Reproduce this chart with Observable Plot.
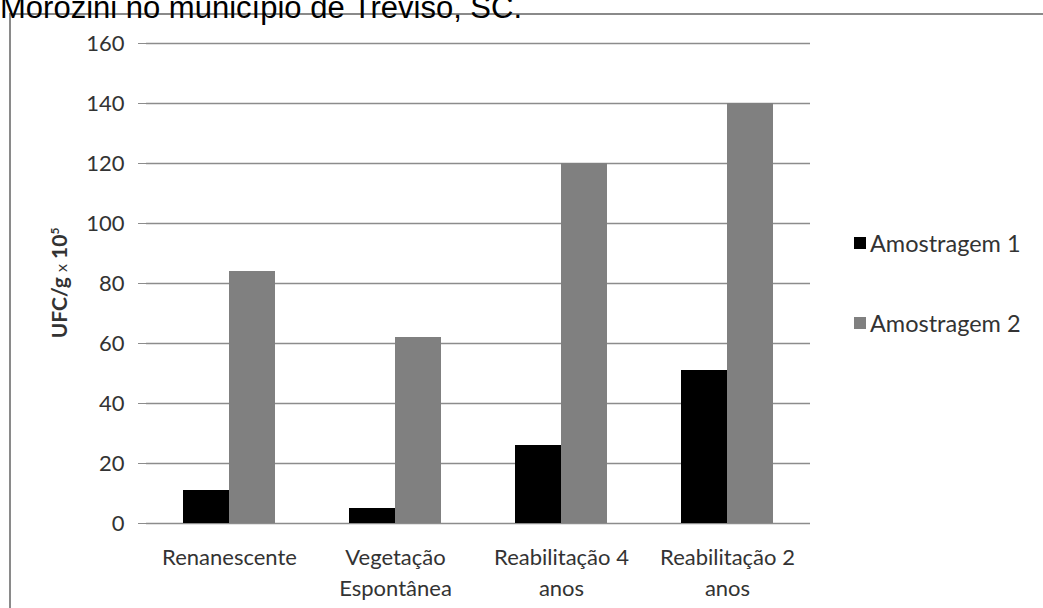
<!DOCTYPE html>
<html>
<head>
<meta charset="utf-8">
<script src="https://cdn.jsdelivr.net/npm/d3@7"></script>
<script src="https://cdn.jsdelivr.net/npm/@observablehq/plot@0.6"></script>
<style>
  html, body { margin: 0; padding: 0; background: #fff; overflow: hidden; }
  body { width: 1043px; height: 608px; position: relative; font-family: Lato, "Open Sans", sans-serif; }
  #title { position: absolute; left: 0; top: -7px; font-family: "Liberation Sans", Arial, sans-serif; font-size: 31px; color: #000; white-space: nowrap; line-height: 30px; }
  #frame { position: absolute; left: 9px; top: 13px; width: 1100px; height: 700px; border: 2px solid #8a8a8a; box-sizing: border-box; }
  #chart { position: absolute; left: 0; top: 0; }
  #ytitle { position: absolute; left: 58px; top: 283px; transform: translate(-50%, -50%) rotate(-90deg); white-space: nowrap; font-family: Lato, sans-serif; font-weight: bold; font-size: 21px; color: #333; }
  #ytitle .x { font-weight: normal; font-size: 16px; }
  #ytitle sup { font-size: 12px; }
  .leg { position: absolute; left: 854px; font-family: Lato, sans-serif; font-size: 23.5px; color: #333; white-space: nowrap; display: flex; align-items: center; }
  .leg span.sw { display: inline-block; width: 12px; height: 12px; margin-right: 4px; }
</style>
</head>
<body>
<div id="frame"></div>
<div id="title">Morozini no município de Treviso, SC.</div>
<div id="chart"></div>
<div id="ytitle">UFC/g <span class="x">x</span> 10<sup>5</sup></div>
<div id="legend"></div>
<script>
const categories = ["Renanescente", "Vegetação Espontânea", "Reabilitação 4 anos", "Reabilitação 2 anos"];
const categoryLabels = ["Renanescente", "Vegetação\nEspontânea", "Reabilitação 4\nanos", "Reabilitação 2\nanos"];
const series = ["Amostragem 1", "Amostragem 2"];
const amostragem1 = [11, 5, 26, 51];
const amostragem2 = [84, 62, 120, 140];
const yTicks = [0, 20, 40, 60, 80, 100, 120, 140, 160];
const colors = ["#000000", "#808080"];

const data = [];
categories.forEach((c, i) => {
  data.push({category: c, series: series[0], value: amostragem1[i]});
  data.push({category: c, series: series[1], value: amostragem2[i]});
});

const chart = Plot.plot({
  width: 1043,
  height: 608,
  marginLeft: 144,
  marginRight: 232,
  marginTop: 43,
  marginBottom: 85,
  style: {fontFamily: "Lato, sans-serif", fontSize: "22px", color: "#333", background: "transparent"},
  fx: {domain: categories, padding: 0, axis: null},
  x: {domain: series, paddingInner: 0, paddingOuter: 0.77, axis: null},
  y: {domain: [0, 160], axis: null},
  color: {domain: series, range: colors},
  marks: [
    Plot.gridY(yTicks, {stroke: "#8c8c8c", strokeOpacity: 1, strokeWidth: 1.5}),
    Plot.barY(data, {fx: "category", x: "series", y: "value", fill: "series"}),
    Plot.axisY(yTicks, {anchor: "left", tickSize: 8, tickPadding: 14, stroke: "#8c8c8c", line: true, label: null, fontSize: 22}),
    Plot.axisFx({anchor: "bottom", tickSize: 0, tickPadding: 20, label: null, lineHeight: 1.4, fontSize: 22,
      tickFormat: d => categoryLabels[categories.indexOf(d)]})
  ]
});
document.getElementById("chart").appendChild(chart);

const legend = document.getElementById("legend");
[244, 324].forEach((y, i) => {
  const el = document.createElement("div");
  el.className = "leg";
  el.style.top = (y - 15) + "px";
  el.innerHTML = `<span class="sw" style="background:${colors[i]}"></span>${series[i]}`;
  legend.appendChild(el);
});
</script>
</body>
</html>
